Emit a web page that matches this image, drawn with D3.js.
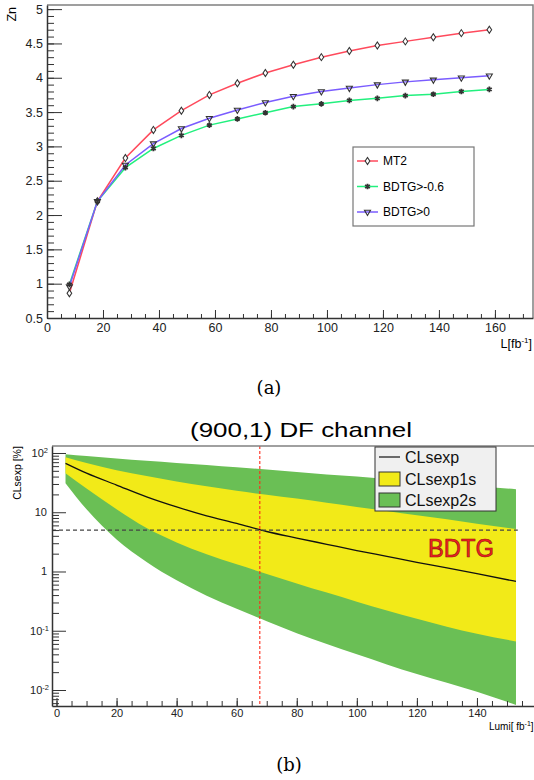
<!DOCTYPE html>
<html>
<head>
<meta charset="utf-8">
<script src="https://cdn.jsdelivr.net/npm/d3@7"></script>
<style>
  body { margin: 0; background: #fff; }
  svg { display: block; }
</style>
</head>
<body>
<div id="chart"></div>
<script>
// ---- panel (a) data ----
var lumiA = [8, 18, 28, 38, 48, 58, 68, 78, 88, 98, 108, 118, 128, 138, 148, 158];
var mt2 = [0.86, 2.20, 2.83, 3.24, 3.52, 3.75, 3.92, 4.07, 4.19, 4.30, 4.39, 4.47, 4.53, 4.59, 4.65, 4.70];
var bdtgNeg06 = [0.99, 2.20, 2.69, 2.97, 3.16, 3.31, 3.40, 3.49, 3.58, 3.62, 3.67, 3.70, 3.74, 3.76, 3.80, 3.83];
var bdtgGt0 = [0.96, 2.20, 2.73, 3.04, 3.26, 3.41, 3.53, 3.64, 3.73, 3.80, 3.85, 3.90, 3.94, 3.97, 4.00, 4.03];
var seriesNamesA = ["MT2", "BDTG>-0.6", "BDTG>0"];
var xTicksA = [0, 20, 40, 60, 80, 100, 120, 140, 160];
var yTicksA = [0.5, 1, 1.5, 2, 2.5, 3, 3.5, 4, 4.5, 5];

// ---- panel (b) data (CLs in %) ----
var lumiB = [3, 10, 20, 30, 40, 50, 60, 70, 80, 90, 100, 110, 120, 130, 140, 153];
var clsExp = [67, 45.7, 28.8, 18.2, 12.3, 8.7, 6.5, 4.73, 3.67, 2.88, 2.26, 1.8, 1.43, 1.15, 0.92, 0.68];
var up1s = [85, 67.5, 51, 41, 33, 27.5, 23, 19.7, 17, 14.5, 12.3, 10.5, 8.9, 7.6, 6.4, 5.2];
var dn1s = [45.4, 25.1, 11.2, 5.4, 3.1, 1.95, 1.32, 0.91, 0.63, 0.44, 0.31, 0.22, 0.16, 0.117, 0.089, 0.066];
var up2s = [95.5, 89, 81, 74, 68, 63, 57.5, 52.5, 48, 43.5, 40, 36.5, 33, 30, 27.5, 24.5];
var dn2s = [30.9, 11.2, 3.47, 1.45, 0.71, 0.39, 0.234, 0.145, 0.091, 0.060, 0.040, 0.027, 0.0186, 0.0132, 0.0093, 0.0056];
var legendB = ["CLsexp", "CLsexp1s", "CLsexp2s"];
var xTicksB = [0, 20, 40, 60, 80, 100, 120, 140];
var yMajorB = [0.01, 0.1, 1, 10, 100];
var yLabelsB = [["10", "-2"], ["10", "-1"], ["1", ""], ["10", ""], ["10", "2"]];
var clsLimit = 5;
var lumiCut = 67.7;

var FONT = "'Liberation Sans', Arial, Helvetica, sans-serif";

var svg = d3.select("#chart").append("svg")
  .attr("width", 534).attr("height", 780)
  .attr("font-family", FONT);

function axisFont(g, size) {
  g.attr("font-family", FONT).attr("font-size", size);
  g.selectAll("text").attr("fill", "#222");
}

// ================= panel (a) =================
var ga = svg.append("g");
var xa = d3.scaleLinear().domain([0, 173.6]).range([47, 533]);
var ya = d3.scaleLinear().domain([0.5, 5.06]).range([318, 5]);

// frame (top / right)
ga.append("path")
  .attr("d", "M" + xa(0) + "," + ya(5.06) + "H" + xa(173.6) + "V" + ya(0.5))
  .attr("fill", "none").attr("stroke", "#808080").attr("stroke-width", 1.5);

// minor ticks
ga.append("g").attr("transform", "translate(0," + ya(0.5) + ")")
  .call(d3.axisBottom(xa).tickValues(d3.range(0, 171, 5)).tickSize(-4).tickSizeOuter(0).tickFormat(""))
  .call(function(g) { g.select(".domain").remove(); });
ga.append("g").attr("transform", "translate(" + xa(0) + ",0)")
  .call(d3.axisLeft(ya).tickValues(d3.range(5, 51).map(function(d) { return d / 10; })).tickSize(-7).tickSizeOuter(0).tickFormat(""))
  .call(function(g) { g.select(".domain").remove(); });

// major ticks + labels
ga.append("g").attr("transform", "translate(0," + ya(0.5) + ")")
  .call(d3.axisBottom(xa).tickValues(xTicksA).tickSize(-8).tickSizeOuter(0).tickPadding(5))
  .call(axisFont, 12.5);
ga.append("g").attr("transform", "translate(" + xa(0) + ",0)")
  .call(d3.axisLeft(ya).tickValues(yTicksA).tickSize(-15).tickSizeOuter(0).tickPadding(4).tickFormat(d3.format("")))
  .call(axisFont, 12.5);
ga.selectAll(".domain").attr("stroke", "#333").attr("stroke-width", 1.5);
ga.selectAll(".tick line").attr("stroke", "#333");

ga.append("text").attr("transform", "translate(16,7) rotate(-90)")
  .attr("text-anchor", "end").attr("font-size", 12.5).text("Zn");
var xt = ga.append("text").attr("x", 532).attr("y", 348).attr("text-anchor", "end").attr("font-size", 12.5);
xt.append("tspan").text("L[fb");
xt.append("tspan").attr("font-size", 8).attr("dy", -5).text("-1");
xt.append("tspan").attr("dy", 5).text("]");

var colorsA = ["#ff4a5c", "#22f07e", "#7a5cff"];
var dataA = [mt2, bdtgNeg06, bdtgGt0];
var symA = [
  d3.symbol().type(d3.symbolDiamond2).size(22),
  d3.symbol().type(d3.symbolAsterisk).size(22),
  d3.symbol().type(d3.symbolTriangle2).size(26)
];
var lineA = d3.line().x(function(d, i) { return xa(lumiA[i]); }).y(function(d) { return ya(d); });

dataA.forEach(function(vals, k) {
  ga.append("path").datum(vals)
    .attr("fill", "none").attr("stroke", colorsA[k]).attr("stroke-width", 1.5)
    .attr("d", lineA);
});
dataA.forEach(function(vals, k) {
  ga.selectAll(".m" + k).data(vals).enter().append("path")
    .attr("transform", function(d, i) {
      return "translate(" + xa(lumiA[i]) + "," + ya(d) + ")" + (k === 2 ? " rotate(180)" : "") + (k === 0 ? " scale(0.8,1.2)" : "");
    })
    .attr("d", symA[k])
    .attr("fill", k === 0 ? "#fff" : "none")
    .attr("stroke", "#333").attr("stroke-width", k === 1 ? 1.8 : 1.1);
});

// legend (a)
var la = ga.append("g");
la.append("rect").attr("x", 353).attr("y", 147).attr("width", 121).attr("height", 79)
  .attr("fill", "#fff").attr("stroke", "#777").attr("stroke-width", 1.2);
seriesNamesA.forEach(function(name, k) {
  var cy = 161 + k * 25.5;
  la.append("line").attr("x1", 357).attr("x2", 378).attr("y1", cy).attr("y2", cy)
    .attr("stroke", colorsA[k]).attr("stroke-width", 1.5);
  la.append("path")
    .attr("transform", "translate(367.5," + cy + ")" + (k === 2 ? " rotate(180)" : "") + (k === 0 ? " scale(0.8,1.2)" : ""))
    .attr("d", symA[k]).attr("fill", k === 0 ? "#fff" : "none")
    .attr("stroke", "#333").attr("stroke-width", k === 1 ? 1.8 : 1.1);
  la.append("text").attr("x", 383).attr("y", cy).attr("dy", "0.35em")
    .attr("font-size", 12).text(name);
});

svg.append("text").attr("x", 269).attr("y", 394).attr("text-anchor", "middle")
  .attr("font-family", "'DejaVu Serif', serif").attr("font-size", 18).text("(a)");

// ================= panel (b) =================
var gb = svg.append("g");
var xb = d3.scaleLinear().domain([-1.5, 159]).range([52, 534]);
var yb = d3.scaleLog().domain([0.00537, 131.2]).range([706, 446]);

gb.append("text").attr("x", 301).attr("y", 437).attr("text-anchor", "middle")
  .attr("font-size", 21).attr("textLength", 222).attr("lengthAdjust", "spacingAndGlyphs")
  .text("(900,1) DF channel");

var area2 = d3.area().curve(d3.curveMonotoneX)
  .x(function(d, i) { return xb(lumiB[i]); })
  .y0(function(d, i) { return yb(dn2s[i]); })
  .y1(function(d) { return yb(d); });
var area1 = d3.area().curve(d3.curveMonotoneX)
  .x(function(d, i) { return xb(lumiB[i]); })
  .y0(function(d, i) { return yb(dn1s[i]); })
  .y1(function(d) { return yb(d); });
var lineB = d3.line().curve(d3.curveMonotoneX)
  .x(function(d, i) { return xb(lumiB[i]); })
  .y(function(d) { return yb(d); });

gb.append("path").datum(up2s).attr("fill", "#6abf55").attr("d", area2);
gb.append("path").datum(up1s).attr("fill", "#f2ea18").attr("d", area1);
gb.append("path").datum(clsExp).attr("fill", "none").attr("stroke", "#111").attr("stroke-width", 1.3).attr("d", lineB);

// reference lines
gb.append("line").attr("x1", 52).attr("x2", xb(153.6)).attr("y1", yb(clsLimit)).attr("y2", yb(clsLimit))
  .attr("stroke", "#444").attr("stroke-width", 1.4).attr("stroke-dasharray", "4,3");
gb.append("line").attr("x1", xb(lumiCut)).attr("x2", xb(lumiCut)).attr("y1", 446).attr("y2", 706)
  .attr("stroke", "#ff2a1a").attr("stroke-width", 1.1).attr("stroke-dasharray", "3,2");

// frame top
gb.append("line").attr("x1", 52).attr("x2", 534).attr("y1", 446).attr("y2", 446)
  .attr("stroke", "#808080").attr("stroke-width", 1.5);

// axes (b)
var minorB = [];
[-3, -2, -1, 0, 1, 2].forEach(function(e) {
  for (var k = 2; k <= 9; k++) {
    var v = k * Math.pow(10, e);
    if (v > 0.00537 && v < 131.2) minorB.push(v);
  }
});
gb.append("g").attr("transform", "translate(52,0)")
  .call(d3.axisLeft(yb).tickValues(minorB).tickSize(-7).tickSizeOuter(0).tickFormat(""))
  .call(function(g) { g.select(".domain").remove(); });
gb.append("g").attr("transform", "translate(52,0)")
  .call(d3.axisLeft(yb).tickValues(yMajorB).tickSize(-14).tickSizeOuter(0).tickFormat(""));
gb.append("g").attr("transform", "translate(0,706)")
  .call(d3.axisBottom(xb).tickValues(d3.range(0, 159, 5)).tickSize(-5).tickSizeOuter(0).tickFormat(""))
  .call(function(g) { g.select(".domain").remove(); });
gb.append("g").attr("transform", "translate(0,706)")
  .call(d3.axisBottom(xb).tickValues(xTicksB).tickSize(-8).tickSizeOuter(0).tickPadding(3))
  .call(axisFont, 11);
gb.selectAll(".domain").attr("stroke", "#333").attr("stroke-width", 1.5);
gb.selectAll(".tick line").attr("stroke", "#333");

yMajorB.forEach(function(v, i) {
  var t = gb.append("text").attr("x", 47).attr("y", yb(v)).attr("dy", "0.35em")
    .attr("text-anchor", "end").attr("font-size", 11).attr("fill", "#222");
  t.append("tspan").text(yLabelsB[i][0]);
  if (yLabelsB[i][1]) {
    t.attr("x", yLabelsB[i][1].length > 1 ? 49 : 48);
    t.append("tspan").attr("font-size", 7.5).attr("dy", -4).text(yLabelsB[i][1]);
  }
});

gb.append("text").attr("transform", "translate(21,473) rotate(-90)")
  .attr("text-anchor", "middle").attr("font-size", 10.5).text("CLsexp [%]");
var xtb = gb.append("text").attr("x", 489).attr("y", 730).attr("font-size", 10);
xtb.append("tspan").text("Lumi[ fb");
xtb.append("tspan").attr("font-size", 7).attr("dy", -4).text("-1");
xtb.append("tspan").attr("dy", 4).text("]");

// legend (b)
var lb = gb.append("g");
lb.append("rect").attr("x", 375).attr("y", 447).attr("width", 121).attr("height", 64)
  .attr("fill", "#f0f0f0").attr("stroke", "#333").attr("stroke-width", 1);
lb.append("line").attr("x1", 379).attr("x2", 400).attr("y1", 457).attr("y2", 457)
  .attr("stroke", "#111").attr("stroke-width", 1.2);
lb.append("rect").attr("x", 379).attr("y", 472).attr("width", 21).attr("height", 14)
  .attr("fill", "#f2ea18").attr("stroke", "#333").attr("stroke-width", 1);
lb.append("rect").attr("x", 379).attr("y", 493).attr("width", 21).attr("height", 14)
  .attr("fill", "#6abf55").attr("stroke", "#333").attr("stroke-width", 1);
[457, 479, 500].forEach(function(cy, i) {
  lb.append("text").attr("x", 405).attr("y", cy).attr("dy", "0.36em")
    .attr("font-size", 16).attr("fill", "#111").text(legendB[i]);
});

gb.append("text").attr("x", 428).attr("y", 557).attr("font-size", 25)
  .attr("textLength", 66).attr("lengthAdjust", "spacingAndGlyphs")
  .attr("fill", "#f02020").attr("stroke", "#8a1010").attr("stroke-width", 0.6)
  .text("BDTG");

svg.append("text").attr("x", 289).attr("y", 771).attr("text-anchor", "middle")
  .attr("font-family", "'DejaVu Serif', serif").attr("font-size", 18).text("(b)");
</script>
</body>
</html>
